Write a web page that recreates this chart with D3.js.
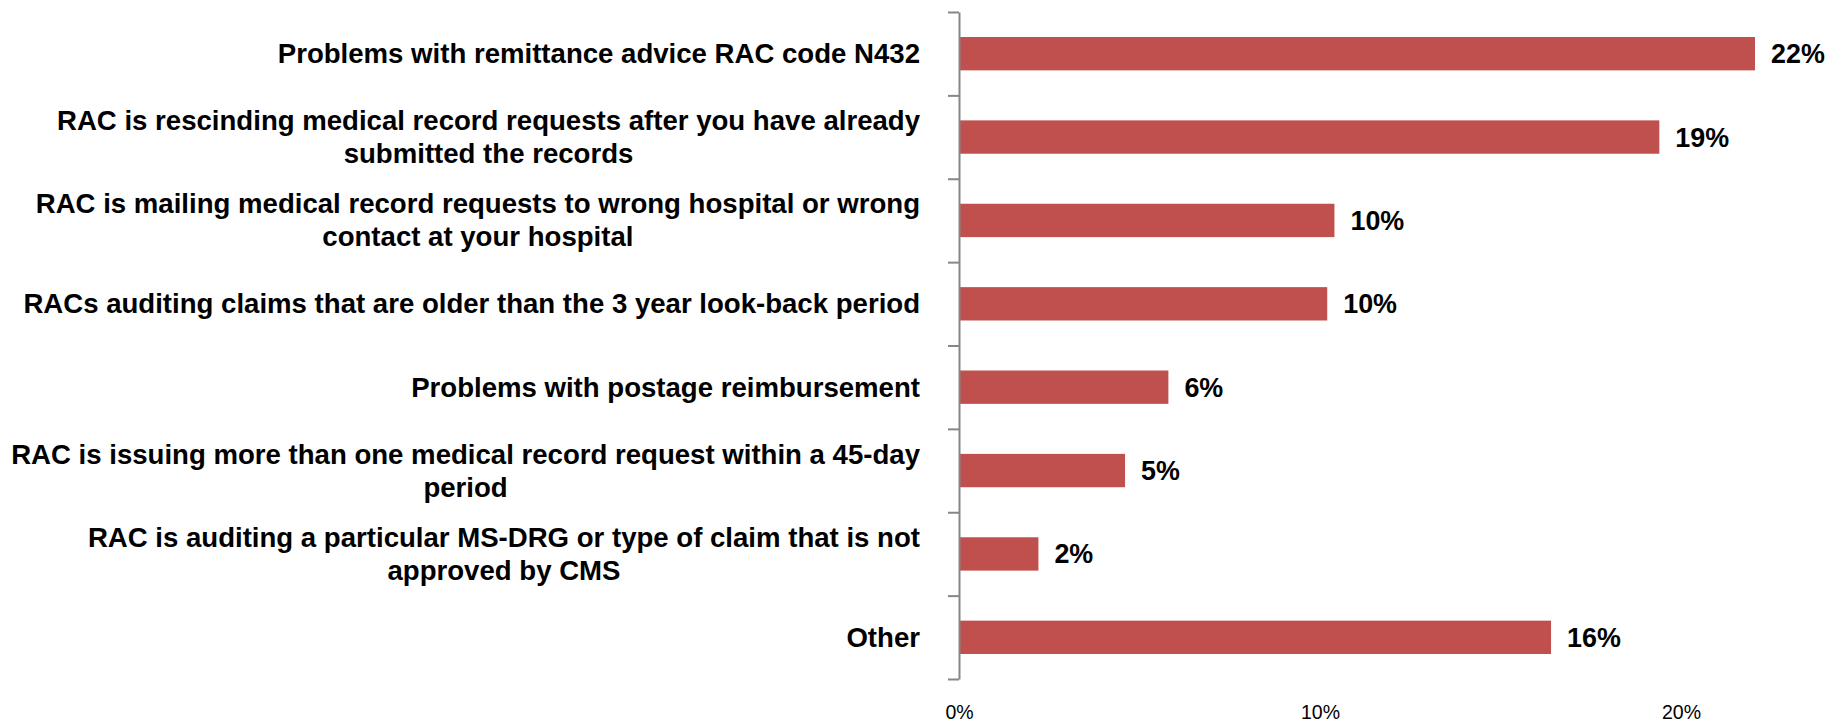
<!DOCTYPE html>
<html>
<head>
<meta charset="utf-8">
<script src="https://cdn.jsdelivr.net/npm/d3@7"></script>
<style>
  body { margin: 0; background: #ffffff; }
  svg text { font-family: "Liberation Sans", Arial, sans-serif; }
</style>
</head>
<body>
<svg id="chart" width="1843" height="721"></svg>
<script>
// Survey responses: problems reported with RAC (Recovery Audit Contractor) activity
const categories = [
  ["Problems with remittance advice RAC code N432"],
  ["RAC is rescinding medical record requests after you have already", "submitted the records"],
  ["RAC is mailing medical record requests to wrong hospital or wrong", "contact at your hospital"],
  ["RACs auditing claims that are older than the 3 year look-back period"],
  ["Problems with postage reimbursement"],
  ["RAC is issuing more than one medical record request within a 45-day", "period"],
  ["RAC is auditing a particular MS-DRG or type of claim that is not", "approved by CMS"],
  ["Other"]
];
const shares = [0.2205, 0.194, 0.104, 0.102, 0.058, 0.046, 0.022, 0.164];
const tickValues = [0, 0.1, 0.2];

const svg = d3.select("#chart");
const axisX = 959, plotTop = 12, plotBottom = 679;
const labelRight = 920;
const barColor = "#C0504D";
const axisColor = "#868686";
const fontSize = 28;
const lineGap = 33;

const idx = d3.range(categories.length);
const x = d3.scaleLinear().domain([0, 0.25]).range([axisX, axisX + 361 * 2.5]);
const y = d3.scaleBand().domain(idx).range([plotTop, plotBottom]).paddingInner(0.6).paddingOuter(0.3);
const edges = d3.scaleLinear().domain([0, categories.length]).range([plotTop, plotBottom]);

// bars
svg.append("g").selectAll("rect")
  .data(idx)
  .join("rect")
  .attr("x", x(0))
  .attr("y", i => y(i))
  .attr("width", i => x(shares[i]) - x(0))
  .attr("height", y.bandwidth())
  .attr("fill", barColor);

// category axis with tick marks between categories
const yAxis = svg.append("g")
  .attr("transform", `translate(${axisX},0)`)
  .call(d3.axisLeft(edges).tickValues(d3.range(categories.length + 1)).tickSize(11).tickSizeOuter(0).tickFormat(""));
yAxis.select(".domain").attr("stroke", axisColor).attr("stroke-width", 2);
yAxis.selectAll(".tick line").attr("stroke", axisColor).attr("stroke-width", 2);

// condensed text
function condense(sel, factor) {
  sel.each(function () {
    const w = this.getComputedTextLength();
    d3.select(this).attr("textLength", w * factor).attr("lengthAdjust", "spacingAndGlyphs");
  });
}

// category labels: block right-aligned, lines centered on each other
const labelSqueeze = 0.985;
const labelG = svg.append("g");
idx.forEach(i => {
  const lines = categories[i];
  const cy = y(i) + y.bandwidth() / 2;
  const g = labelG.append("g");
  const texts = g.selectAll("text")
    .data(lines)
    .join("text")
    .attr("font-size", fontSize)
    .attr("font-weight", "bold")
    .attr("fill", "#000")
    .attr("dominant-baseline", "central")
    .text(d => d);
  const widths = [];
  texts.each(function () { widths.push(this.getComputedTextLength() * labelSqueeze); });
  condense(texts, labelSqueeze);
  const maxW = d3.max(widths);
  const n = lines.length;
  texts
    .attr("text-anchor", n > 1 ? "middle" : "end")
    .attr("x", n > 1 ? labelRight - maxW / 2 : labelRight)
    .attr("y", (d, k) => cy + (k - (n - 1) / 2) * lineGap);
});

// value labels
const fmt = d3.format(".0%");
svg.append("g").selectAll("text")
  .data(idx)
  .join("text")
  .attr("x", i => x(shares[i]) + 16)
  .attr("y", i => y(i) + y.bandwidth() / 2)
  .attr("dominant-baseline", "central")
  .attr("font-size", fontSize)
  .attr("font-weight", "bold")
  .attr("fill", "#000")
  .text(i => fmt(shares[i]))
  .call(condense, 0.96);

// value axis labels
const xAxis = svg.append("g")
  .attr("transform", `translate(0,${plotBottom})`)
  .call(d3.axisBottom(x).tickValues(tickValues).tickFormat(d3.format(".0%")).tickSize(0).tickPadding(0));
xAxis.select(".domain").remove();
xAxis.selectAll(".tick text")
  .attr("font-size", 21)
  .attr("font-family", "Liberation Sans, Arial, sans-serif")
  .attr("fill", "#000")
  .attr("dy", null)
  .attr("y", 32)
  .attr("dominant-baseline", "central")
  .call(condense, 0.93);
</script>
</body>
</html>
